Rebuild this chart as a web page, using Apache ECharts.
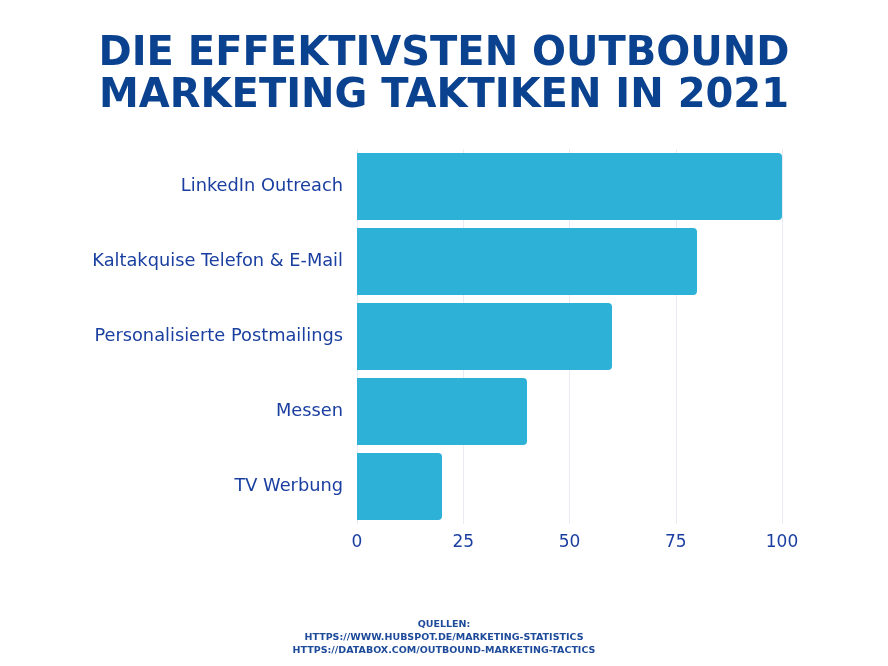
<!DOCTYPE html>
<html><head><meta charset="utf-8">
<script src="https://cdn.jsdelivr.net/npm/echarts@6/dist/echarts.min.js"></script>
<style>html,body{margin:0;padding:0;background:#fff}#c{width:888px;height:666px}</style>
</head><body><div id="c"></div>
<script>
var titleLines = ['DIE EFFEKTIVSTEN OUTBOUND', 'MARKETING TAKTIKEN IN 2021'];
var categories = ['LinkedIn Outreach', 'Kaltakquise Telefon & E-Mail', 'Personalisierte Postmailings', 'Messen', 'TV Werbung'];
var values = [100, 80, 60, 40, 20];
var xTicks = [0, 25, 50, 75, 100];
var sourceLines = ['QUELLEN:', 'HTTPS://WWW.HUBSPOT.DE/MARKETING-STATISTICS', 'HTTPS://DATABOX.COM/OUTBOUND-MARKETING-TACTICS'];

var chart = echarts.init(document.getElementById('c'));
chart.setOption({
  backgroundColor: '#ffffff',
  title: [{
    text: titleLines.join('\n'),
    left: 'center', top: 29,
    textStyle: {fontFamily: 'DejaVu Sans', fontWeight: 'bold', fontSize: 40, lineHeight: 42, color: '#0a428f'}
  }, {
    text: sourceLines.join('\n'),
    left: 'center', top: 613,
    textStyle: {fontFamily: 'DejaVu Sans', fontWeight: 'bold', fontSize: 9.5, lineHeight: 13, color: '#1d4a9a', align: 'center'}
  }],
  grid: {left: 357, right: 106, top: 149, bottom: 142, containLabel: false},
  xAxis: {
    type: 'value', min: 0, max: 100, interval: 25,
    axisLine: {show: false}, axisTick: {show: false},
    splitLine: {show: true, lineStyle: {color: '#e8ebf3', width: 1}},
    axisLabel: {color: '#1a3fa0', fontFamily: 'DejaVu Sans', fontSize: 17, margin: 10,
      formatter: function (v) { return xTicks.indexOf(v) >= 0 ? String(v) : ''; }}
  },
  yAxis: {
    type: 'category', data: categories, inverse: true,
    axisLine: {show: false}, axisTick: {show: false},
    axisLabel: {color: '#1a3fa0', fontFamily: 'DejaVu Sans', fontSize: 17.8, margin: 14}
  },
  series: [{
    type: 'bar', data: values, barCategoryGap: '10.7%',
    itemStyle: {color: '#2eb1d6', borderRadius: [0, 4, 4, 0]},
    silent: true
  }]
});
</script></body></html>
